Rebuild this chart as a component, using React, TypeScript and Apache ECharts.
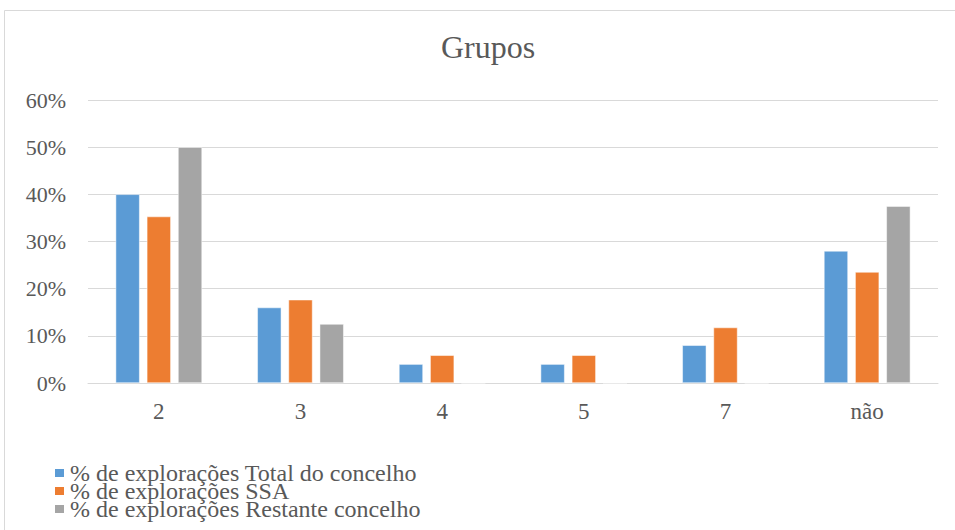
import React, { useEffect, useRef } from "react";
import * as echarts from "echarts";

const categories = ["2", "3", "4", "5", "7", "não"];
const totalConcelho = [40, 16, 4, 4, 8, 28];
const ssa = [35.29, 17.65, 5.88, 5.88, 11.76, 23.53];
const restante = [50, 12.5, 0, 0, 0, 37.5];
const seriesNames = [
  "% de explorações Total do concelho",
  "% de explorações SSA",
  "% de explorações Restante concelho",
];
const colors = ["#5B9BD5", "#ED7D31", "#A5A5A5"];

const FONT = "Liberation Serif";
const TEXT = "#595959";

export default function App() {
  const ref = useRef<HTMLDivElement>(null);
  useEffect(() => {
    if (!ref.current) return;
    const chart = echarts.init(ref.current, undefined, { renderer: "svg" });
    const data = [totalConcelho, ssa, restante];
    chart.setOption({
      animation: false,
      backgroundColor: "#ffffff",
      textStyle: { fontFamily: FONT, color: TEXT },
      title: {
        text: "Grupos",
        left: 441,
        top: 31,
        padding: 0,
        textStyle: { fontFamily: FONT, fontSize: 32, fontWeight: "normal", color: TEXT },
      },
      graphic: [
        {
          type: "rect",
          shape: { x: 4.5, y: 10.5, width: 1000, height: 600 },
          style: { fill: "none", stroke: "#D9D9D9", lineWidth: 1 },
          silent: true,
          z: -1,
        },
      ],
      legend: seriesNames.map((name, i) => ({
        orient: "horizontal",
        left: 53,
        top: 461 + i * 18,
        padding: 0,
        itemWidth: 11,
        itemHeight: 10,
        itemGap: 0,
        icon: "rect",
        textStyle: { fontFamily: FONT, fontSize: 24, color: TEXT, lineHeight: 20, padding: [0, 0, 0, 0] },
        data: [name],
      })),
      grid: { left: 88, right: 17, top: 100, bottom: 147, containLabel: false },
      xAxis: {
        type: "category",
        data: categories,
        axisLine: { lineStyle: { color: "#D9D9D9", width: 1 } },
        axisTick: { show: false },
        axisLabel: { fontFamily: FONT, fontSize: 23, color: TEXT, margin: 17 },
      },
      yAxis: {
        type: "value",
        min: 0,
        max: 60,
        interval: 10,
        axisLine: { show: false },
        axisTick: { show: false },
        splitLine: { lineStyle: { color: "#D9D9D9", width: 1 } },
        axisLabel: {
          fontFamily: FONT,
          fontSize: 22,
          color: TEXT,
          margin: 22,
          formatter: (v: number) => `${v}%`,
        },
      },
      series: seriesNames.map((name, i) => ({
        name,
        type: "bar",
        data: data[i],
        barWidth: 24,
        barGap: "30%",
        itemStyle: { color: colors[i], borderColor: "#ffffff", borderWidth: 0.5 },
      })),
    });
    return () => chart.dispose();
  }, []);
  return (
    <div
      ref={ref}
      style={{ position: "fixed", left: 0, top: 0, width: 955, height: 530 }}
    />
  );
}
